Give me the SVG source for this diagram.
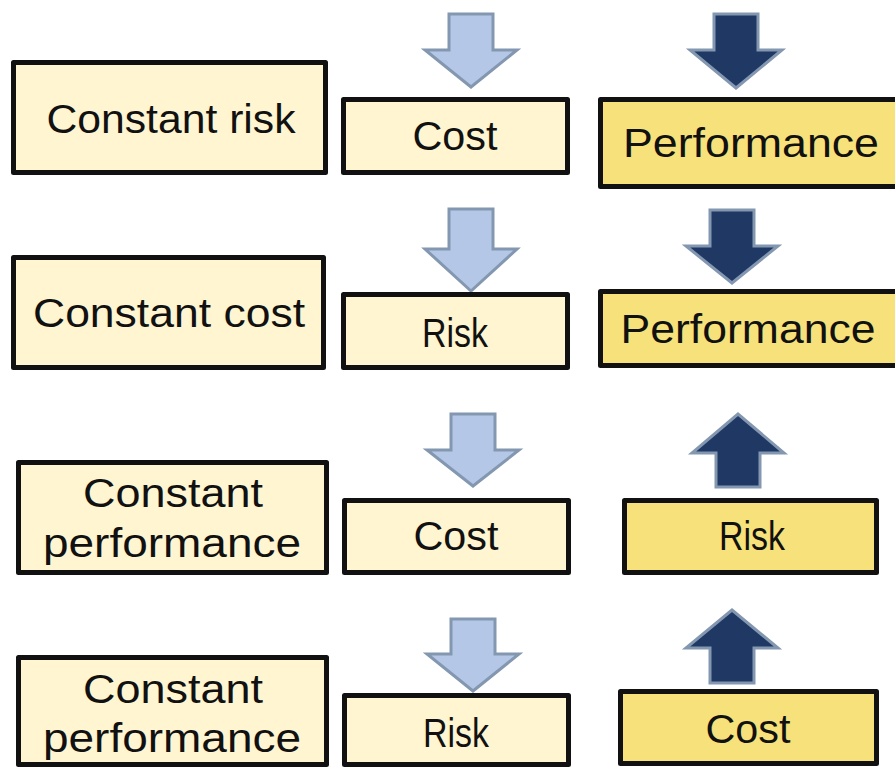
<svg xmlns="http://www.w3.org/2000/svg" width="895" height="769" viewBox="0 0 895 769">
<style>
.bl{fill:#FFF5D1;stroke:#111;stroke-width:5;stroke-linejoin:round}
.by{fill:#F7E17A;stroke:#111;stroke-width:5;stroke-linejoin:round}
.t{font-family:"Liberation Sans",Arial,sans-serif;font-size:41px;fill:#111;text-anchor:middle}
.al{fill:#B4C7E7;stroke:#8497B0;stroke-width:3}
.ad{fill:#1F3864;stroke:#8497B0;stroke-width:3}
</style>
<rect width="895" height="769" fill="#fff"/>
<g id="connectors">
<polygon class="al" points="449,14 493,14 493,50 517,50 471,87 425,50 449,50"/>
<polygon class="ad" points="714,14 758,14 758,50 782,50 736,88 690,50 714,50"/>
<polygon class="al" points="449,209 493,209 493,249 517,249 471,291 425,249 449,249"/>
<polygon class="ad" points="710,210 754,210 754,246 778,246 732,283 686,246 710,246"/>
<polygon class="al" points="451,414 495,414 495,450 519,450 473,486 427,450 451,450"/>
<polygon class="ad" points="716,487 760,487 760,453 784,453 738,414 692,453 716,453"/>
<polygon class="al" points="451,619 495,619 495,654 519,654 473,691 427,654 451,654"/>
<polygon class="ad" points="710,683 754,683 754,648 778,648 732,610 686,648 710,648"/>
</g>
<g id="n-constant-risk"><rect class="bl" x="13.5" y="62.5" width="312" height="110"/><text class="t" x="171" y="133" textLength="249" lengthAdjust="spacingAndGlyphs">Constant risk</text></g>
<g id="n-cost-1"><rect class="bl" x="343.5" y="99.5" width="224" height="73"/><text class="t" x="455" y="150" textLength="85" lengthAdjust="spacingAndGlyphs">Cost</text></g>
<g id="n-performance-1"><rect class="by" x="600.5" y="99.5" width="300" height="87"/><text class="t" x="751" y="157" textLength="256" lengthAdjust="spacingAndGlyphs">Performance</text></g>
<g id="n-constant-cost"><rect class="bl" x="13.5" y="257.5" width="310" height="110"/><text class="t" x="169" y="327" textLength="272" lengthAdjust="spacingAndGlyphs">Constant cost</text></g>
<g id="n-risk-2"><rect class="bl" x="343.5" y="294.5" width="224" height="73"/><text class="t" x="455" y="347" textLength="66" lengthAdjust="spacingAndGlyphs">Risk</text></g>
<g id="n-performance-2"><rect class="by" x="600.5" y="291.5" width="300" height="74"/><text class="t" x="748" y="343" textLength="255" lengthAdjust="spacingAndGlyphs">Performance</text></g>
<g id="n-constant-performance-3"><rect class="bl" x="18.5" y="462.5" width="308" height="110"/><text class="t" x="173" y="507" textLength="180" lengthAdjust="spacingAndGlyphs">Constant</text><text class="t" x="172" y="557" textLength="258" lengthAdjust="spacingAndGlyphs">performance</text></g>
<g id="n-cost-3"><rect class="bl" x="344.5" y="500.5" width="224" height="72"/><text class="t" x="456" y="550" textLength="85" lengthAdjust="spacingAndGlyphs">Cost</text></g>
<g id="n-risk-3"><rect class="by" x="624.5" y="500.5" width="252" height="72"/><text class="t" x="752" y="550" textLength="66" lengthAdjust="spacingAndGlyphs">Risk</text></g>
<g id="n-constant-performance-4"><rect class="bl" x="18.5" y="657.5" width="308" height="107"/><text class="t" x="173" y="703" textLength="180" lengthAdjust="spacingAndGlyphs">Constant</text><text class="t" x="172" y="752" textLength="258" lengthAdjust="spacingAndGlyphs">performance</text></g>
<g id="n-risk-4"><rect class="bl" x="344.5" y="695.5" width="224" height="69"/><text class="t" x="456" y="747" textLength="66" lengthAdjust="spacingAndGlyphs">Risk</text></g>
<g id="n-cost-4"><rect class="by" x="620.5" y="691.5" width="256" height="72"/><text class="t" x="748" y="743" textLength="85" lengthAdjust="spacingAndGlyphs">Cost</text></g>
</svg>
